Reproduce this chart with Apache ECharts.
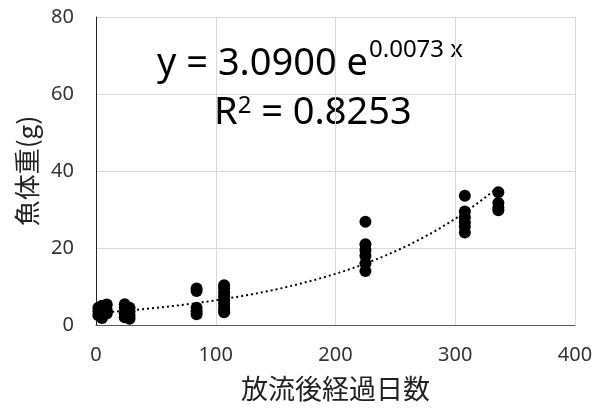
<!DOCTYPE html>
<html>
<head>
<meta charset="utf-8">
<script src="https://cdn.jsdelivr.net/npm/echarts@6/dist/echarts.min.js"></script>
<style>html,body{margin:0;padding:0;background:#fff}#c{width:600px;height:412px}</style>
</head>
<body>
<div id="c"></div>
<script>
// observed days and fish weights (g)
const days = [
  2,2,2, 5,5,5, 9,9,9,
  24,24,24,24, 28,28,28,28,
  84,84,84,84,84,
  107,107,107,107,107,107,107,107,107,
  225,225,225,225,225,225,
  308,308,308,308,308,308,
  336,336,336,336
];
const weights = [
  2.5,3.5,4.5, 1.8,4.0,5.0, 3.0,3.8,5.3,
  2.0,3.0,4.5,5.4, 1.6,2.5,3.5,4.5,
  9.5,8.8,4.5,3.6,2.8,
  10.3,9.5,8.5,7.5,6.5,5.5,4.5,3.8,3.3,
  26.8,21.0,19.5,18.0,16.0,14.0,
  33.6,29.5,28.0,26.7,25.5,24.0,
  34.5,31.7,30.5,29.8
];
const xTicks = [0, 100, 200, 300, 400];
const yTicks = [0, 20, 40, 60, 80];
// exponential trendline as printed on the chart
const trendA = 3.09, trendB = 0.0073, trendStart = 1, trendEnd = 336;
const xTitle = '放流後経過日数';
const yTitle = '魚体重(g)';

const points = days.map((d, i) => [d, weights[i]]);
const trend = [];
for (let d = trendStart; d <= trendEnd; d += 1) trend.push([d, trendA * Math.exp(trendB * d)]);

const chart = echarts.init(document.getElementById('c'), null, {renderer: 'canvas'});
const tickFont = {fontFamily: 'Noto Sans', fontSize: 20, color: '#333'};
chart.setOption({
  animation: false,
  grid: {left: 96, right: 25, top: 17, bottom: 87},
  xAxis: {
    type: 'value', min: xTicks[0], max: xTicks[xTicks.length - 1], interval: 100,
    axisLine: {show: true, lineStyle: {color: '#595959', width: 1}},
    axisTick: {show: false},
    splitLine: {show: true, lineStyle: {color: '#d9d9d9', width: 1}},
    axisLabel: Object.assign({margin: 20}, tickFont),
    name: xTitle, nameLocation: 'middle', nameGap: 50,
    nameTextStyle: {fontFamily: 'Noto Sans CJK JP', fontSize: 27, color: '#222'}
  },
  yAxis: {
    type: 'value', min: yTicks[0], max: yTicks[yTicks.length - 1], interval: 20,
    axisLine: {show: true, lineStyle: {color: '#262626', width: 1}},
    axisTick: {show: false},
    splitLine: {show: true, lineStyle: {color: '#d9d9d9', width: 1}},
    axisLabel: Object.assign({margin: 22}, tickFont),
    name: yTitle, nameLocation: 'middle', nameGap: 55, nameRotate: 90,
    nameTextStyle: {fontFamily: 'Noto Sans CJK JP', fontSize: 26, color: '#222'}
  },
  series: [
    {
      type: 'line', data: trend, showSymbol: false, symbol: 'none', z: 3,
      lineStyle: {color: '#000', width: 2, type: [2, 3]}
    },
    {
      type: 'scatter', data: points, symbol: 'circle', symbolSize: 12, z: 2,
      itemStyle: {color: '#000', opacity: 1}
    }
  ],
  graphic: [
    {type: 'text', left: 157, top: 45, style: {text: 'y = 3.0900 e', font: '38px "Noto Sans"', fill: '#000'}},
    {type: 'text', left: 369, top: 38, style: {text: '0.0073 x', font: '24px "Noto Sans"', fill: '#000'}},
    {type: 'text', left: 214, top: 94, style: {
      rich: {
        a: {fontFamily: 'Noto Sans', fontSize: 38, fill: '#000'},
        s: {fontFamily: 'Noto Sans', fontSize: 24, fill: '#000', verticalAlign: 'top', padding: [0, 0, 14, 0]}
      },
      text: '{a|R}{s|2}{a| = 0.8253}'
    }}
  ]
});
</script>
</body>
</html>
